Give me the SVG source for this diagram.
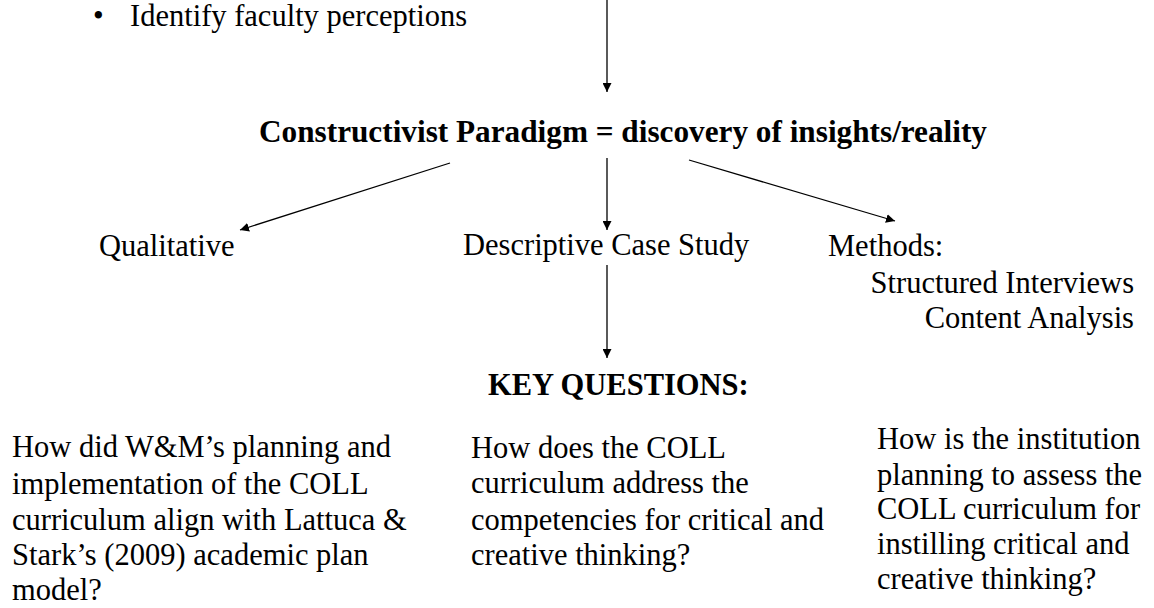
<svg xmlns="http://www.w3.org/2000/svg" width="1154" height="608" viewBox="0 0 1154 608">
<style>
text{font-family:"Liberation Serif","Times New Roman",serif;fill:#000;font-size:30.5px}
.b{font-weight:bold}
.c{stroke:#000;stroke-width:1.3;fill:none;marker-end:url(#ah)}
</style>
<defs>
<marker id="ah" viewBox="0 0 10 10" refX="10" refY="5" markerWidth="9" markerHeight="9" markerUnits="userSpaceOnUse" orient="auto">
<path d="M0,0 L10,5 L0,10 z" fill="#000"/>
</marker>
</defs>
<rect width="1154" height="608" fill="#fff"/>
<g id="connectors">
<line class="c" x1="607" y1="0" x2="607" y2="92"/>
<line class="c" x1="450" y1="163" x2="240" y2="230"/>
<line class="c" x1="607" y1="158" x2="607" y2="230"/>
<line class="c" x1="689" y1="160" x2="895" y2="221"/>
<line class="c" x1="607" y1="265" x2="607" y2="358"/>
</g>
<g id="perceptions"><text x="93" y="26">•</text><text x="130" y="26">Identify faculty perceptions</text></g>
<g id="paradigm"><text class="b" x="259" y="142" font-size="31" textLength="728" lengthAdjust="spacingAndGlyphs">Constructivist Paradigm = discovery of insights/reality</text></g>
<g id="qualitative"><text x="99" y="256">Qualitative</text></g>
<g id="case-study"><text x="463" y="255">Descriptive Case Study</text></g>
<g id="methods"><text x="828" y="256">Methods:</text>
<text x="1134" y="293" text-anchor="end">Structured Interviews</text>
<text x="1134" y="328" text-anchor="end">Content Analysis</text></g>
<g id="key-questions"><text class="b" x="488" y="395">KEY QUESTIONS:</text></g>
<g id="q1">
<text x="12" y="457">How did W&amp;M’s planning and</text>
<text x="12" y="494">implementation of the COLL</text>
<text x="12" y="530">curriculum align with Lattuca &amp;</text>
<text x="12" y="565">Stark’s (2009) academic plan</text>
<text x="12" y="600">model?</text>
</g>
<g id="q2">
<text x="471" y="458">How does the COLL</text>
<text x="471" y="493">curriculum address the</text>
<text x="471" y="530">competencies for critical and</text>
<text x="471" y="565">creative thinking?</text>
</g>
<g id="q3">
<text x="877" y="449">How is the institution</text>
<text x="877" y="485">planning to assess the</text>
<text x="877" y="519">COLL curriculum for</text>
<text x="877" y="554">instilling  critical and</text>
<text x="877" y="589">creative thinking?</text>
</g>
</svg>
